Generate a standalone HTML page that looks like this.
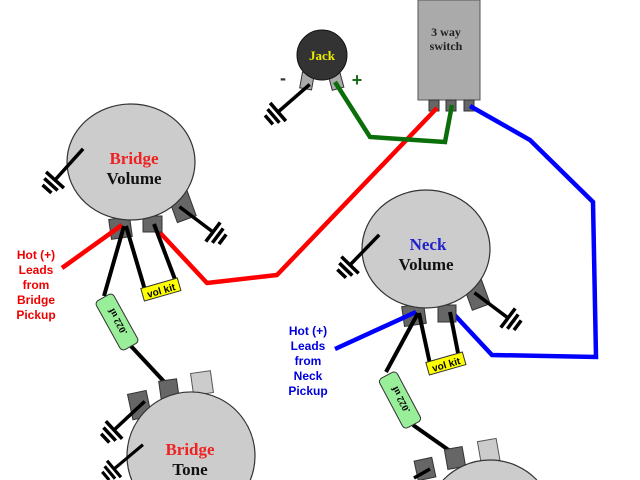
<!DOCTYPE html>
<html><head><meta charset="utf-8"><style>
html,body{margin:0;padding:0;background:#fff;width:640px;height:480px;overflow:hidden;}
svg{display:block;}
.t{font-family:"Liberation Serif",serif;font-weight:bold;}
.s{font-family:"Liberation Sans",sans-serif;font-weight:bold;}
</style></head><body>
<svg width="640" height="480" viewBox="0 0 640 480" xmlns="http://www.w3.org/2000/svg" style="overflow:hidden">
<defs>
<g id="gnd"><line x1="-42" y1="0" x2="0" y2="0" stroke="#000" stroke-width="3.5"/>
<line x1="0" y1="-12" x2="0" y2="12" stroke="#000" stroke-width="3.5"/>
<line x1="6" y1="-9" x2="6" y2="9" stroke="#000" stroke-width="3.5"/>
<line x1="12" y1="-6" x2="12" y2="6" stroke="#000" stroke-width="3.5"/></g>
</defs>

<rect x="418" y="0" width="62" height="100" fill="#aaa" stroke="#555" stroke-width="1"/>
<text class="t" x="446" y="36" font-size="12" text-anchor="middle" fill="#222">3 way</text>
<text class="t" x="446" y="50" font-size="12" text-anchor="middle" fill="#222">switch</text>
<rect x="429" y="100" width="10" height="11" fill="#666" stroke="#333"/>
<rect x="446" y="100" width="10" height="11" fill="#666" stroke="#333"/>
<rect x="464" y="100" width="10" height="11" fill="#666" stroke="#333"/>

<rect x="301" y="73" width="12" height="16" fill="#aaa" stroke="#333" transform="rotate(10 307 81)"/>
<rect x="330" y="73" width="12" height="16" fill="#aaa" stroke="#333" transform="rotate(-15 336 81)"/>
<circle cx="322" cy="55" r="25" fill="#333" stroke="#111"/>
<text class="t" x="322" y="60" font-size="13" text-anchor="middle" fill="#ee0">Jack</text>
<text class="s" x="283" y="84" font-size="18" text-anchor="middle" fill="#333">-</text>
<text class="s" x="357" y="86" font-size="18" text-anchor="middle" fill="#1a6b1a">+</text>
<g transform="translate(278,112) rotate(139)"><use href="#gnd"/></g>

<polyline points="437,108 277,275 207,283 150,222" fill="none" stroke="#f00" stroke-width="4.5" stroke-linejoin="round"/>
<polyline points="335,82 370,137 445,142 452,105" fill="none" stroke="#0a6e0a" stroke-width="4.5"/>
<polyline points="470,106 530,140 593,202 596,357 492,355 450,310" fill="none" stroke="#00f" stroke-width="4.5"/>

<rect x="110" y="218" width="21" height="20" fill="#666" stroke="#333" transform="rotate(-8 120 228)"/>
<rect x="143" y="216" width="19" height="16" fill="#666" stroke="#333"/>
<rect x="172" y="192" width="20" height="28" fill="#666" stroke="#333" transform="rotate(-20 182 206)"/>
<ellipse cx="131" cy="162" rx="64" ry="58" fill="#ccc" stroke="#333" stroke-width="1.2"/>
<text class="t" x="134" y="164" font-size="17" text-anchor="middle" fill="#e22">Bridge</text>
<text class="t" x="134" y="184" font-size="17" text-anchor="middle" fill="#111">Volume</text>
<g transform="translate(55,180) rotate(132)"><use href="#gnd"/></g>
<g transform="translate(213,232) rotate(37)"><use href="#gnd"/></g>
<line x1="62" y1="268" x2="122" y2="225" stroke="#f00" stroke-width="4.5"/>
<line x1="124" y1="226" x2="104" y2="296" stroke="#000" stroke-width="4"/>
<line x1="126" y1="226" x2="145" y2="290" stroke="#000" stroke-width="4"/>
<line x1="154" y1="224" x2="176" y2="282" stroke="#000" stroke-width="4"/>
<g transform="translate(161,290) rotate(-16)"><rect x="-19" y="-7" width="38" height="13" fill="#ff0" stroke="#333"/><text class="s" x="0" y="4" font-size="10" text-anchor="middle">vol kit</text></g>
<line x1="130" y1="345" x2="170" y2="388" stroke="#000" stroke-width="4"/>
<g transform="translate(117,322) rotate(61)"><rect x="-28" y="-10" width="56" height="20" rx="4" fill="#9e9" stroke="#333"/><text class="t" x="0" y="4" font-size="10" text-anchor="middle" transform="rotate(180)">.022 uf</text></g>
<text class="s" font-size="12" fill="#e00" text-anchor="middle"><tspan x="36" y="259">Hot (+)</tspan><tspan x="36" y="274">Leads</tspan><tspan x="36" y="289">from</tspan><tspan x="36" y="304">Bridge</tspan><tspan x="36" y="319">Pickup</tspan></text>

<rect x="130" y="392" width="19" height="26" fill="#666" stroke="#333" transform="rotate(-12 140 405)"/>
<rect x="160" y="380" width="18" height="22" fill="#666" stroke="#333" transform="rotate(-8 169 390)"/>
<rect x="192" y="372" width="20" height="22" fill="#ccc" stroke="#555" transform="rotate(-8 202 383)"/>
<path d="M131.7,480 A64 64 0 1 1 250.3,480 Z" fill="#ccc"/>
<path d="M131.7,480 A64 64 0 1 1 250.3,480" fill="none" stroke="#333" stroke-width="1.2"/>
<text class="t" x="190" y="455" font-size="17" text-anchor="middle" fill="#e22">Bridge</text>
<text class="t" x="190" y="475" font-size="17" text-anchor="middle" fill="#111">Tone</text>
<g transform="translate(114,430) rotate(137)"><use href="#gnd"/></g>
<g transform="translate(114,469) rotate(140) scale(0.9)"><use href="#gnd"/></g>

<rect x="403" y="305" width="22" height="20" fill="#666" stroke="#333" transform="rotate(-8 414 315)"/>
<rect x="438" y="305" width="18" height="17" fill="#666" stroke="#333"/>
<rect x="467" y="280" width="19" height="28" fill="#666" stroke="#333" transform="rotate(-20 476 294)"/>
<ellipse cx="426" cy="249" rx="64" ry="59" fill="#ccc" stroke="#333" stroke-width="1.2"/>
<text class="t" x="428" y="250" font-size="17" text-anchor="middle" fill="#22c">Neck</text>
<text class="t" x="426" y="270" font-size="17" text-anchor="middle" fill="#111">Volume</text>
<g transform="translate(350,265) rotate(134)"><use href="#gnd"/></g>
<g transform="translate(508,318) rotate(37)"><use href="#gnd"/></g>
<line x1="335" y1="349" x2="416" y2="312" stroke="#00f" stroke-width="4.5"/>
<line x1="418" y1="313" x2="386" y2="372" stroke="#000" stroke-width="4"/>
<line x1="419" y1="313" x2="430" y2="364" stroke="#000" stroke-width="4"/>
<line x1="450" y1="312" x2="459" y2="358" stroke="#000" stroke-width="4"/>
<g transform="translate(446,364) rotate(-16)"><rect x="-19" y="-7" width="38" height="13" fill="#ff0" stroke="#333"/><text class="s" x="0" y="4" font-size="10" text-anchor="middle">vol kit</text></g>
<line x1="413" y1="425" x2="460" y2="458" stroke="#000" stroke-width="4"/>
<g transform="translate(400,400) rotate(62)"><rect x="-28" y="-10" width="56" height="20" rx="4" fill="#9e9" stroke="#333"/><text class="t" x="0" y="4" font-size="10" text-anchor="middle" transform="rotate(180)">.022 uf</text></g>
<text class="s" font-size="12" fill="#00d" text-anchor="middle"><tspan x="308" y="335">Hot (+)</tspan><tspan x="308" y="350">Leads</tspan><tspan x="308" y="365">from</tspan><tspan x="308" y="380">Neck</tspan><tspan x="308" y="395">Pickup</tspan></text>

<rect x="416" y="459" width="18" height="20" fill="#666" stroke="#333" transform="rotate(-12 425 469)"/>
<rect x="446" y="448" width="18" height="20" fill="#666" stroke="#333" transform="rotate(-10 455 458)"/>
<rect x="479" y="440" width="19" height="22" fill="#ccc" stroke="#555" transform="rotate(-10 488 450)"/>
<path d="M443.1,480 A65 65 0 0 1 536.9,480 Z" fill="#ccc"/>
<path d="M443.1,480 A65 65 0 0 1 536.9,480" fill="none" stroke="#333" stroke-width="1.2"/>
<line x1="430" y1="469" x2="414" y2="478" stroke="#000" stroke-width="3.5"/>
</svg>
</body></html>
